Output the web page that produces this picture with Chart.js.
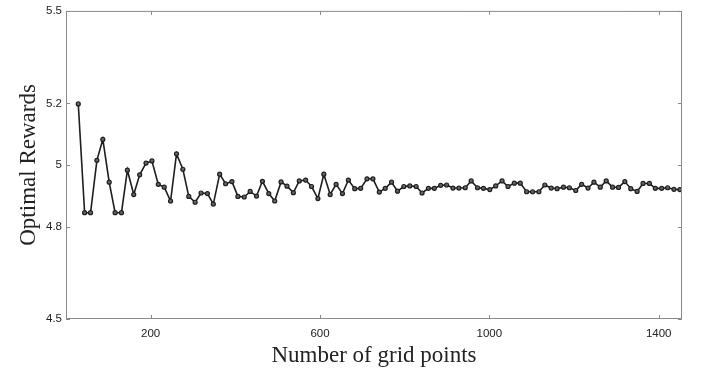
<!DOCTYPE html>
<html>
<head>
<meta charset="utf-8">
<script src="https://cdn.jsdelivr.net/npm/chart.js@4"></script>
<style>
  html, body { margin: 0; padding: 0; background: #fff; }
  #wrap { width: 705px; height: 376px; }
</style>
</head>
<body>
<div id="wrap"><canvas id="chart"></canvas></div>
<script>
// grid sizes (x) and optimal rewards (y)
const gridPoints = [29, 44, 58, 73, 87, 102, 116, 131, 145, 160, 174, 189, 203, 218, 232, 247, 261, 276, 290, 305,
  319, 334, 348, 363, 377, 392, 406, 421, 435, 450, 464, 479, 493, 508, 522, 537, 551, 566, 580, 595,
  609, 624, 638, 653, 667, 682, 696, 711, 725, 740, 754, 769, 783, 798, 812, 827, 841, 856, 870, 885,
  899, 914, 928, 943, 957, 972, 986, 1001, 1015, 1030, 1044, 1059, 1073, 1088, 1102, 1117, 1131, 1146, 1160, 1175,
  1189, 1204, 1218, 1233, 1247, 1262, 1276, 1291, 1305, 1320, 1334, 1349, 1363, 1378, 1392, 1407, 1421, 1436, 1450];

const rewards = [5.198, 4.845, 4.845, 5.015, 5.083, 4.944, 4.845, 4.845, 4.983, 4.904,
  4.968, 5.006, 5.013, 4.937, 4.928, 4.883, 5.036, 4.986, 4.898, 4.879,
  4.909, 4.907, 4.873, 4.970, 4.939, 4.946, 4.898, 4.896, 4.914, 4.899,
  4.947, 4.907, 4.883, 4.945, 4.931, 4.910, 4.948, 4.951, 4.930, 4.891,
  4.970, 4.904, 4.937, 4.907, 4.951, 4.923, 4.924, 4.955, 4.955, 4.912,
  4.924, 4.944, 4.915, 4.930, 4.932, 4.930, 4.909, 4.924, 4.924, 4.934,
  4.935, 4.925, 4.925, 4.926, 4.948, 4.926, 4.924, 4.920, 4.932, 4.948,
  4.930, 4.941, 4.941, 4.913, 4.913, 4.913, 4.935, 4.925, 4.923, 4.928,
  4.926, 4.917, 4.937, 4.925, 4.944, 4.928, 4.948, 4.928, 4.927, 4.946,
  4.923, 4.914, 4.940, 4.940, 4.924, 4.924, 4.926, 4.921, 4.920];

const xTicks = [200, 600, 1000, 1400];
const yTicks = [4.5, 4.8, 5, 5.2, 5.5];

const AXIS_COLOR = "#8a8a8a";
const TEXT_COLOR = "#222";

// inward tick marks on all four sides, plus the top/right frame
const boxTicks = {
  id: "boxTicks",
  afterDraw(chart) {
    const { ctx, chartArea: a, scales: { x, y } } = chart;
    const len = 4;
    ctx.save();
    ctx.strokeStyle = AXIS_COLOR;
    ctx.lineWidth = 1;
    ctx.beginPath();
    ctx.rect(a.left + 0.5, a.top + 0.5, a.right - a.left - 1, a.bottom - a.top - 1);
    xTicks.forEach(v => {
      const px = Math.round(x.getPixelForValue(v)) + 0.5;
      ctx.moveTo(px, a.bottom); ctx.lineTo(px, a.bottom - len);
      ctx.moveTo(px, a.top); ctx.lineTo(px, a.top + len);
    });
    yTicks.forEach(v => {
      const py = Math.round(y.getPixelForValue(v)) + 0.5;
      ctx.moveTo(a.left, py); ctx.lineTo(a.left + len, py);
      ctx.moveTo(a.right, py); ctx.lineTo(a.right - len, py);
    });
    ctx.stroke();
    ctx.restore();
  },
};

new Chart(document.getElementById("chart").getContext("2d"), {
  type: "line",
  data: {
    datasets: [{
      data: gridPoints.map((g, i) => ({ x: g, y: rewards[i] })),
      borderColor: "#1e1e1e",
      borderWidth: 1.6,
      pointRadius: 2,
      pointBorderWidth: 1.2,
      pointBorderColor: "#1e1e1e",
      pointBackgroundColor: "#666",
      tension: 0,
      fill: false,
    }],
  },
  options: {
    responsive: true,
    maintainAspectRatio: false,
    animation: false,
    layout: { padding: { left: 0, right: 23, top: 7, bottom: 0 } },
    plugins: { legend: { display: false }, tooltip: { enabled: false } },
    scales: {
      x: {
        type: "linear",
        min: 0,
        max: 1455,
        afterBuildTicks: s => { s.ticks = xTicks.map(v => ({ value: v })); },
        afterFit: s => { s.height = 57; },
        grid: { display: true, drawOnChartArea: false, drawTicks: false },
        border: { display: false },
        ticks: {
          padding: 8, color: TEXT_COLOR,
          font: { family: "Liberation Sans, Arial", size: 11.5 },
          callback: v => String(v),
        },
        title: {
          display: true,
          text: "Number of grid points",
          color: TEXT_COLOR,
          padding: { top: 0, bottom: 6 },
          font: { family: "Liberation Serif, Times New Roman", size: 23 },
        },
      },
      y: {
        type: "linear",
        min: 4.5,
        max: 5.5,
        afterBuildTicks: s => { s.ticks = yTicks.map(v => ({ value: v })); },
        afterFit: s => { s.width = 66; },
        grid: { display: true, drawOnChartArea: false, drawTicks: false },
        border: { display: false },
        ticks: {
          padding: 4, color: TEXT_COLOR,
          font: { family: "Liberation Sans, Arial", size: 11.5 },
          callback: v => String(v),
        },
        title: {
          display: true,
          text: "Optimal Rewards",
          color: TEXT_COLOR,
          padding: { top: 15, bottom: 0 },
          font: { family: "Liberation Serif, Times New Roman", size: 23 },
        },
      },
    },
  },
  plugins: [boxTicks],
});
</script>
</body>
</html>
